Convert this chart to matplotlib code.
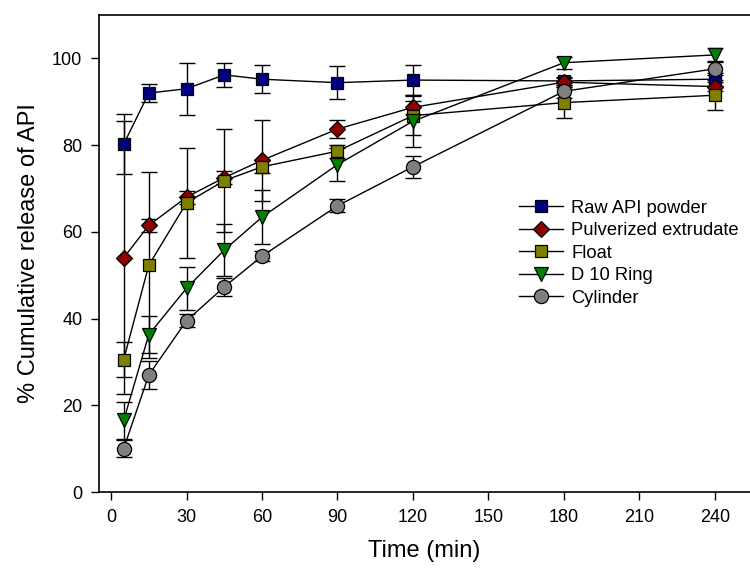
import matplotlib
matplotlib.use('Agg')
import matplotlib.pyplot as plt

# Sampling times (min)
time = [5, 15, 30, 45, 60, 90, 120, 180, 240]

# Mean cumulative release (%) and SD for each formulation
raw = [80.2, 92.0, 93.0, 96.2, 95.2, 94.4, 95.0, 94.8, 95.2]
raw_err = [6.9, 2.0, 6.0, 2.8, 3.2, 3.8, 3.5, 1.0, 1.5]

pulv = [54.0, 61.5, 68.0, 72.5, 76.5, 83.7, 88.7, 94.5, 93.5]
pulv_err = [31.5, 1.5, 1.5, 1.5, 9.3, 2.0, 1.5, 1.0, 1.0]

flt = [30.5, 52.3, 66.7, 71.8, 75.0, 78.6, 86.8, 89.8, 91.5]
flt_err = [4.0, 21.5, 12.7, 11.8, 1.5, 1.5, 4.5, 3.5, 3.5]

ring = [16.5, 36.3, 47.0, 55.8, 63.4, 75.5, 85.5, 99.0, 100.8]
ring_err = [4.3, 4.3, 5.0, 6.0, 6.3, 3.8, 6.0, 1.4, 1.5]

cyl = [10.0, 27.0, 39.5, 47.3, 54.4, 66.0, 75.0, 92.4, 97.6]
cyl_err = [2.0, 3.2, 1.5, 2.0, 1.2, 1.5, 2.6, 1.5, 1.5]

labels = ["Raw API powder", "Pulverized extrudate", "Float", "D 10 Ring", "Cylinder"]

plt.rcParams['font.family'] = ['Liberation Sans', 'DejaVu Sans']

fig = plt.figure(figsize=(7.5, 5.69), dpi=100)
ax = fig.add_axes([0.132, 0.1353, 0.868, 0.8383])

series = [
    (raw, raw_err, "s", "#000080", 9.2),
    (pulv, pulv_err, "D", "#8b0000", 8.5),
    (flt, flt_err, "s", "#808000", 9.2),
    (ring, ring_err, "v", "#008000", 10.5),
    (cyl, cyl_err, "o", "#808080", 10.2),
]

# error bars first so every marker sits on top of them
for vals, err, mk, col, ms in series:
    ax.errorbar(time, vals, yerr=err, fmt="none", ecolor="black",
                elinewidth=1.0, capsize=6, capthick=1.0, zorder=1)

for (vals, err, mk, col, ms), lab in zip(series, labels):
    ax.plot(time, vals, color="black", linewidth=1.0, marker=mk,
            markersize=ms, markerfacecolor=col, markeredgecolor="black",
            markeredgewidth=0.9, label=lab, zorder=3)

ax.set_xlim(-4.8, 254)
ax.set_ylim(0, 110)
ax.set_xticks(range(0, 241, 30))
ax.set_yticks(range(0, 101, 20))
ax.tick_params(direction="out", length=6, width=1, labelsize=13,
               top=False, right=False, pad=6)
ax.spines["right"].set_visible(False)
for s in ["left", "bottom", "top"]:
    ax.spines[s].set_linewidth(1.2)

ax.set_xlabel("Time (min)", fontsize=17, labelpad=10)
ax.set_ylabel("% Cumulative release of API", fontsize=17, labelpad=9)

ax.legend(loc="upper left", bbox_to_anchor=(0.631, 0.632), frameon=False,
          fontsize=13.2, handlelength=2.4, handletextpad=0.45,
          labelspacing=0.3, borderpad=0)

fig.savefig("out.png", dpi=100)
